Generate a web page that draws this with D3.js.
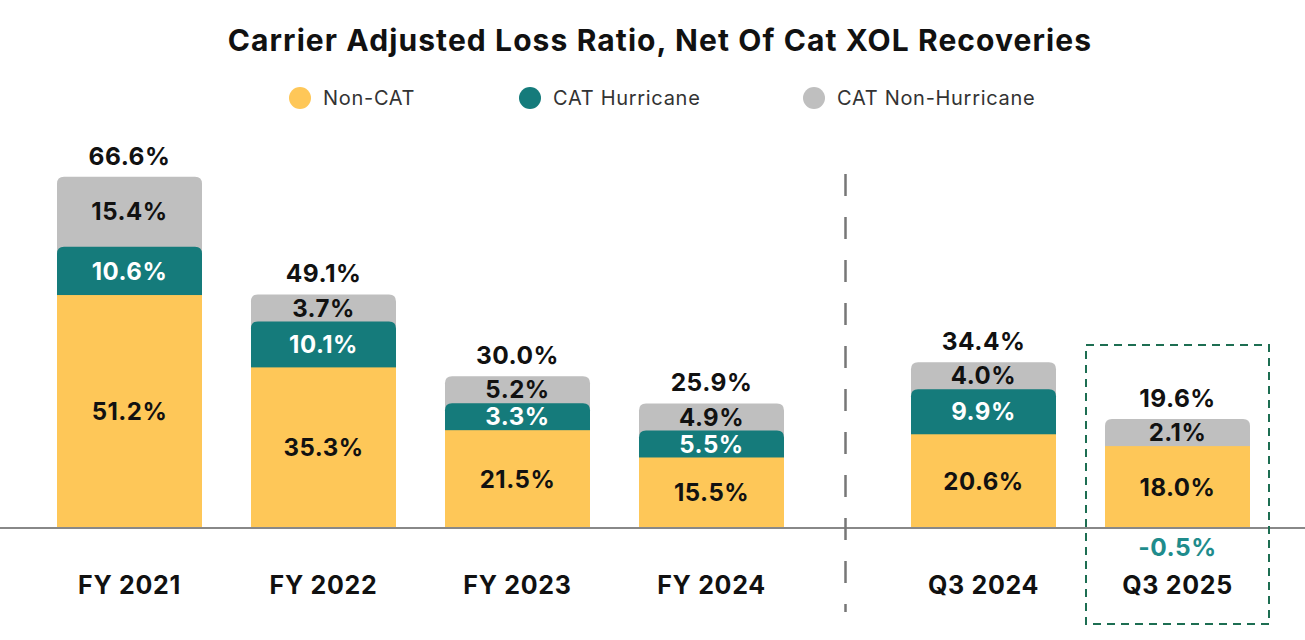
<!DOCTYPE html>
<html>
<head>
<meta charset="utf-8">
<script src="https://cdn.jsdelivr.net/npm/d3@7"></script>
<style>
  body { margin: 0; background: #fff; }
  svg { font-family: Inter, "Noto Sans", sans-serif; }
</style>
</head>
<body>
<div id="chart"></div>
<script>
// data
const categories = ["FY 2021", "FY 2022", "FY 2023", "FY 2024", "Q3 2024", "Q3 2025"];
const quarterly = ["Q3 2024", "Q3 2025"];
const nonCat = [51.2, 35.3, 21.5, 15.5, 20.6, 18.0];
const catHurricane = [10.6, 10.1, 3.3, 5.5, 9.9, -0.5];
const catNonHurricane = [15.4, 3.7, 5.2, 4.9, 4.0, 2.1];
const totals = [66.6, 49.1, 30.0, 25.9, 34.4, 19.6];
const seriesNames = ["Non-CAT", "CAT Hurricane", "CAT Non-Hurricane"];

const colors = ["#fec758", "#157b7b", "#bfbfbf"];
const labelColors = ["#111", "#fff", "#111"];

const width = 1305;
const height = 640;
const baseY = 528;
const minSeg = 27; // smallest visible segment so its label fits
const quarterShift = 78; // extra room for the divider

const svg = d3.select("#chart").append("svg")
  .attr("width", width)
  .attr("height", height);

const x = d3.scaleBand()
  .domain(categories)
  .range([57, 57 + 6 * 194 - 49])
  .paddingInner(49 / 194)
  .paddingOuter(0);
const bx = (c) => x(c) + (quarterly.includes(c) ? quarterShift : 0);

const y = d3.scaleLinear().domain([0, 100]).range([baseY, baseY - 455]);
const h = (v) => Math.max(baseY - y(v), minSeg);

// title
svg.append("text")
  .attr("x", 660).attr("y", 51)
  .attr("text-anchor", "middle")
  .attr("font-size", 30).attr("font-weight", 700).attr("fill", "#111")
  .attr("letter-spacing", 1.1)
  .text("Carrier Adjusted Loss Ratio, Net Of Cat XOL Recoveries");

// legend
const legendX = [300, 530, 814];
seriesNames.forEach((name, i) => {
  svg.append("circle")
    .attr("cx", legendX[i]).attr("cy", 98).attr("r", 11)
    .attr("fill", colors[i]);
  svg.append("text")
    .attr("x", legendX[i] + 23).attr("y", 105)
    .attr("font-size", 20).attr("fill", "#333")
    .attr("letter-spacing", 0.7)
    .text(name);
});

// rounded-top path
function topRounded(x0, y0, w, hh, r) {
  return `M${x0},${y0 + hh} V${y0 + r} Q${x0},${y0} ${x0 + r},${y0} H${x0 + w - r} Q${x0 + w},${y0} ${x0 + w},${y0 + r} V${y0 + hh} Z`;
}

const series = [nonCat, catHurricane, catNonHurricane];
const bw = x.bandwidth();

const valueText = (sel, size) => sel
  .attr("text-anchor", "middle")
  .attr("dy", "0.36em")
  .attr("font-size", size).attr("font-weight", 700)
  .attr("letter-spacing", 0.5);

categories.forEach((c, j) => {
  const x0 = bx(c);
  // segment extents
  let cur = baseY;
  const segs = [];
  series.forEach((s, i) => {
    const v = s[j];
    if (v > 0) {
      const top = cur - h(v);
      segs.push({ i, v, top, bottom: cur });
      cur = top;
    }
  });
  const g = svg.append("g");
  // draw from top segment down so the lower ones cover the rounded corners
  segs.slice().reverse().forEach((s) => {
    if (s.i === 0) {
      g.append("rect")
        .attr("x", x0).attr("y", s.top)
        .attr("width", bw).attr("height", baseY - s.top)
        .attr("fill", colors[0]);
    } else {
      g.append("path")
        .attr("d", topRounded(x0, s.top, bw, baseY - s.top, 7))
        .attr("fill", colors[s.i]);
    }
  });
  segs.forEach((s) => {
    g.append("text")
      .attr("x", x0 + bw / 2).attr("y", (s.top + s.bottom) / 2)
      .call(valueText, 24)
      .attr("fill", labelColors[s.i])
      .text(s.v.toFixed(1) + "%");
  });
  // total
  g.append("text")
    .attr("x", x0 + bw / 2).attr("y", cur - 21)
    .call(valueText, 24.5)
    .attr("fill", "#111")
    .text(totals[j].toFixed(1) + "%");
  // negative values shown under the axis
  series.forEach((s, i) => {
    if (s[j] < 0) {
      g.append("text")
        .attr("x", x0 + bw / 2).attr("y", 547)
        .call(valueText, 24.5)
        .attr("fill", "#1f8c8c")
        .text(s[j].toFixed(1) + "%");
    }
  });
  // category label
  g.append("text")
    .attr("x", x0 + bw / 2).attr("y", 585)
    .attr("dy", "0.36em")
    .attr("text-anchor", "middle")
    .attr("font-size", 25).attr("font-weight", 700).attr("fill", "#111")
    .attr("letter-spacing", 0.7)
    .text(c);
});

// baseline
svg.append("line")
  .attr("x1", 0).attr("x2", width)
  .attr("y1", baseY).attr("y2", baseY)
  .attr("stroke", "#888").attr("stroke-width", 2);

// divider between yearly and quarterly
const divX = (bx("FY 2024") + bw + bx("Q3 2024")) / 2 - 2;
svg.append("line")
  .attr("x1", divX).attr("x2", divX)
  .attr("y1", 174).attr("y2", 612)
  .attr("stroke", "#777").attr("stroke-width", 2.5)
  .attr("stroke-dasharray", "22,21");

// highlight box around latest quarter
const last = bx("Q3 2025");
svg.append("rect")
  .attr("x", last - 19).attr("y", 345)
  .attr("width", bw + 38).attr("height", 279)
  .attr("fill", "none")
  .attr("stroke", "#1d6e52").attr("stroke-width", 2)
  .attr("stroke-dasharray", "8,6");
</script>
</body>
</html>
